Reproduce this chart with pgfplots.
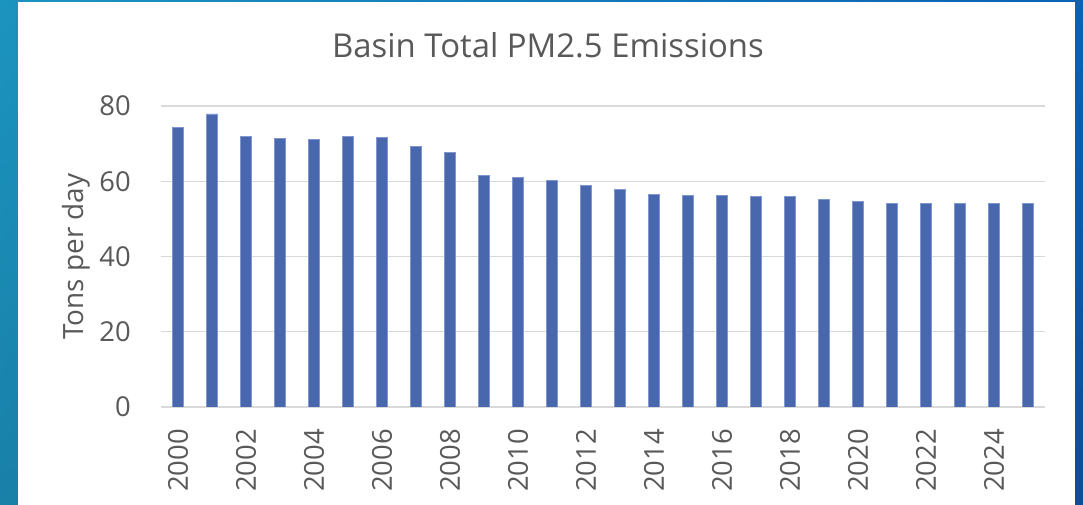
\documentclass[border=0pt]{standalone}
\usepackage{pgfplots}
\pgfplotsset{compat=1.18}
\usetikzlibrary{shadings}
\usepackage{fontspec}
\setmainfont{Open Sans}

\definecolor{barblue}{RGB}{73,103,172}
\definecolor{baredge}{RGB}{128,150,206}
\definecolor{gridgray}{RGB}{217,217,217}
\definecolor{txtgray}{RGB}{89,89,89}
\definecolor{edgeUL}{RGB}{27,148,191}
\definecolor{edgeLL}{RGB}{25,128,168}
\definecolor{edgeUR}{RGB}{10,98,182}
\definecolor{edgeLR}{RGB}{11,79,150}

\begin{document}
\begin{tikzpicture}[x=1bp,y=1bp]
\path[use as bounding box] (0,0) rectangle (1083,505);
% blue frame and white panel
\shade[upper left=edgeUL, lower left=edgeLL, upper right=edgeUR, lower right=edgeLR]
  (0,0) rectangle (1083,505);
\fill[white] (18,0) rectangle (1075,503);

\begin{axis}[
  at={(161bp,98bp)}, anchor=south west,
  scale only axis,
  width=884bp, height=301bp,
  xmin=1999.5, xmax=2025.5,
  ymin=0, ymax=80,
  ybar, bar width=10.5bp,
  axis line style={draw=none},
  major tick length=0pt,
  xtick={2000,2002,...,2024},
  ytick={0,20,...,80},
  ymajorgrids,
  grid style={gridgray, line width=1.4bp},
  /pgf/number format/assume math mode=true,
  /pgf/number format/1000 sep={},
  tick label style={font=\fontsize{27.5}{32}\selectfont, text=txtgray},
  x tick label style={yshift=-22bp, rotate=90, anchor=east, inner sep=0pt},
  y tick label style={anchor=east, inner sep=0pt, xshift=-30bp},
]
\addplot[fill=barblue, draw=baredge, line width=0.7bp] coordinates {
  (2000,74.3) (2001,77.9) (2002,71.9) (2003,71.3) (2004,71.2)
  (2005,71.9) (2006,71.7) (2007,69.3) (2008,67.7) (2009,61.6)
  (2010,61.0) (2011,60.3) (2012,59.0) (2013,57.9) (2014,56.5)
  (2015,56.2) (2016,56.3) (2017,56.0) (2018,56.0) (2019,55.2)
  (2020,54.6) (2021,54.1) (2022,54.0) (2023,54.1) (2024,54.1)
  (2025,54.0)
};
\end{axis}

\node[anchor=base, text=txtgray, inner sep=0pt, font=\fontsize{33}{39}\selectfont]
  at (548,447.7) {Basin Total PM2.5 Emissions};
\node[rotate=90, anchor=base, text=txtgray, inner sep=0pt, font=\fontsize{28}{34}\selectfont]
  at (83,248.5) {Tons per day};
\end{tikzpicture}
\end{document}
